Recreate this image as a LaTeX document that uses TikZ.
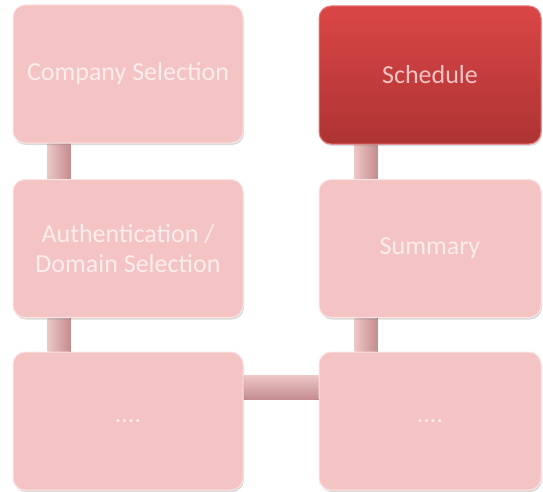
\documentclass[tikz,border=0pt]{standalone}
\usepackage{fontspec}
\setmainfont{Carlito}
\usetikzlibrary{positioning, shadows, backgrounds}

\definecolor{boxpink}{HTML}{F4C3C4}
\definecolor{boxedge}{HTML}{FBE3E3}
\definecolor{barpink}{HTML}{C48C8E}
\definecolor{barlight}{HTML}{EDC6C6}
\definecolor{redtop}{HTML}{DA4646}
\definecolor{redbot}{HTML}{AE3333}
\definecolor{textpale}{HTML}{FCEDED}

\tikzset{
  stepbox/.style={rectangle, rounded corners=12pt, minimum width=230pt,
    minimum height=138pt, fill=boxpink, draw=boxedge, line width=1pt,
    text=textpale, align=center, font=\fontsize{26}{30}\selectfont,
    drop shadow={shadow xshift=1pt, shadow yshift=-2pt, opacity=0.3}},
  activebox/.style={stepbox, top color=redtop, bottom color=redbot,
    draw=redtop!70!white, text=boxpink},
  vbar/.style={left color=barlight, right color=barpink},
  hbar/.style={top color=barlight, bottom color=barpink}
}

\begin{document}
\begin{tikzpicture}[x=1pt, y=-1pt]
  \useasboundingbox (0, 0) rectangle (543, 492);

  % left column
  \node[stepbox] (company) at (128, 74) {Company Selection};
  \node[stepbox] (auth) at (128, 248.5) {Authentication /\\Domain Selection};
  \node[stepbox] (leftdots) at (128, 421) {....};

  % right column
  \node[activebox, minimum width=222pt] (schedule) at (430, 75) {Schedule};
  \node[stepbox, minimum width=222pt] (summary) at (430, 248.5) {Summary};
  \node[stepbox, minimum width=222pt] (rightdots) at (430, 421) {....};

  \begin{scope}[on background layer]
    \fill[vbar] ([xshift=35pt]company.south west)
      rectangle ([xshift=58pt]auth.north west);
    \fill[vbar] ([xshift=35pt]auth.south west)
      rectangle ([xshift=58pt]leftdots.north west);
    \fill[vbar] ([xshift=36pt]schedule.south west)
      rectangle ([xshift=59pt]summary.north west);
    \fill[vbar] ([xshift=36pt]summary.south west)
      rectangle ([xshift=59pt]rightdots.north west);
    \fill[hbar] ([yshift=-24pt]leftdots.north east)
      rectangle ([yshift=-48pt]rightdots.north west);
  \end{scope}
\end{tikzpicture}
\end{document}
